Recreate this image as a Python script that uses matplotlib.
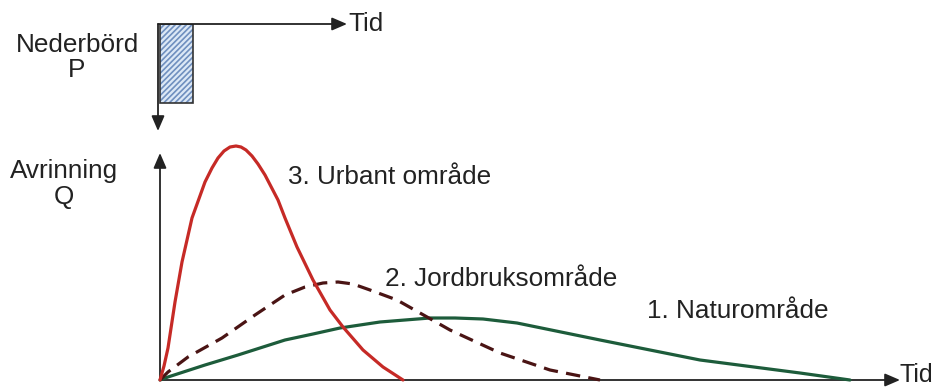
import numpy as np
import matplotlib.pyplot as plt
from matplotlib.patches import FancyArrowPatch

plt.rcParams['font.family'] = ['Liberation Sans', 'DejaVu Sans']
plt.rcParams['hatch.linewidth'] = 1.2

# precipitation block (time, depth) in the small upper chart
rain_start = [2]
rain_len = [33]
rain_depth = [79]

# runoff curves (time, Q)
urban_t = [0, 4, 8, 15, 22, 32, 45, 52, 58, 64, 70, 76, 81, 86, 92, 98, 105, 118, 125, 137, 153, 170, 183, 203, 223, 243]
urban_q = [0, 14, 32, 78, 118, 162, 198, 212, 222, 229, 233, 234, 233, 230, 224, 216, 205, 180, 162, 133, 100, 70, 53, 30, 13, 0]

agri_t = [0, 8, 28, 62, 95, 125, 145, 163, 178, 193, 210, 237, 260, 290, 340, 390, 440]
agri_q = [0, 8, 23, 42, 65, 85, 93, 97, 98, 96, 90, 80, 67, 50, 27, 10, 0]

nat_t = [0, 8, 45, 78, 125, 153, 180, 220, 245, 270, 295, 323, 357, 440, 540, 640, 690]
nat_q = [0, 3, 15, 25, 40, 46, 52, 58, 60, 62, 62, 61, 57, 40, 20, 7, 0]

labels = ['3. Urbant område', '2. Jordbruksområde', '1. Naturområde']

W, H = 935, 390
fig = plt.figure(figsize=(W / 100, H / 100), dpi=100)

def px_rect(x0, y0, x1, y1):
    # pixel box (top-left origin) -> figure fraction
    return [x0 / W, 1 - y1 / H, (x1 - x0) / W, (y1 - y0) / H]

axis_col = '#222222'
txt_col = '#222222'
fs = 18.8

def draw_axes_arrows(ax, down=False):
    for s in ax.spines.values():
        s.set_visible(False)
    ax.set_xticks([])
    ax.set_yticks([])
    ax.patch.set_alpha(0)
    kw = dict(arrowstyle='-|>,head_length=0.65,head_width=0.28', color=axis_col,
              lw=1.3, mutation_scale=14, transform=ax.transAxes, clip_on=False,
              shrinkA=0, shrinkB=0)
    if down:
        ax.add_patch(FancyArrowPatch((0, 1), (1, 1), **kw))
        ax.add_patch(FancyArrowPatch((0, 1), (0, 0), **kw))
    else:
        ax.add_patch(FancyArrowPatch((0, 0), (1, 0), **kw))
        ax.add_patch(FancyArrowPatch((0, 0), (0, 1), **kw))

# upper chart: precipitation
ax_p = fig.add_axes(px_rect(158, 24, 347, 131))
ax_p.set_xlim(0, 189)
ax_p.set_ylim(107, 0)
ax_p.bar(rain_start, rain_depth, width=rain_len, align='edge',
         color='#dce8f6', edgecolor='#6f8fbf', hatch='//////', lw=0)
ax_p.bar(rain_start, rain_depth, width=rain_len, align='edge',
         color='none', edgecolor='#333333', lw=1.2)
draw_axes_arrows(ax_p, down=True)
ax_p.text(1.005, 1.0, 'Tid', transform=ax_p.transAxes, ha='left', va='center',
          fontsize=fs, color=txt_col)

# lower chart: runoff
ax = fig.add_axes(px_rect(160, 153, 900, 380))
ax.set_xlim(0, 740)
ax.set_ylim(0, 227)
ax.plot(nat_t, nat_q, color='#1d5c3b', lw=2.3, clip_on=False, solid_capstyle='round')
ax.plot(agri_t, agri_q, color='#4a1414', lw=2.3, dashes=(4.5, 2.6), clip_on=False)
ax.plot(urban_t, urban_q, color='#c62a26', lw=2.3, clip_on=False, solid_capstyle='round')
draw_axes_arrows(ax)

ax.text(128, 203, labels[0], fontsize=fs, color=txt_col, va='center', ha='left')
ax.text(225, 101, labels[1], fontsize=fs, color=txt_col, va='center', ha='left')
ax.text(487, 69, labels[2], fontsize=fs, color=txt_col, va='center', ha='left')
ax.text(0.999, 5 / 227, 'Tid', transform=ax.transAxes, ha='left', va='center',
        fontsize=18, color=txt_col)

fig.text(77 / W, 1 - 45 / H, 'Nederbörd', ha='center', va='center', fontsize=fs, color=txt_col)
fig.text(77 / W, 1 - 70 / H, 'P', ha='center', va='center', fontsize=fs, color=txt_col)
fig.text(64 / W, 1 - 171 / H, 'Avrinning', ha='center', va='center', fontsize=fs, color=txt_col)
fig.text(64 / W, 1 - 197 / H, 'Q', ha='center', va='center', fontsize=fs, color=txt_col)

fig.savefig('out.png', dpi=100, facecolor='white')
